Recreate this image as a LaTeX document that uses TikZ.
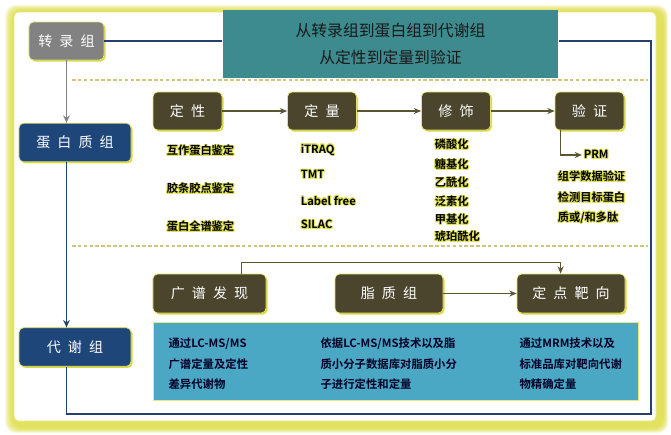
\documentclass[tikz,border=0pt]{standalone}
\usepackage{fontspec}
\setmainfont{Noto Sans CJK SC}[BoldFont={Noto Sans CJK SC Bold}]
\usepackage{contour}
\contourlength{0.7pt}
\usetikzlibrary{arrows.meta,positioning,calc,shadows}
\definecolor{BoxBrown}{HTML}{4B452E}
\definecolor{GlowYellow}{HTML}{D8D82C}
\definecolor{BannerTeal}{HTML}{3D8A8F}
\definecolor{InfoBlue}{HTML}{4BA8C4}
\definecolor{ProtNavy}{HTML}{1F4678}
\definecolor{LoopNavy}{HTML}{23406E}
\definecolor{TransGray}{HTML}{828282}
\definecolor{ArrOlive}{HTML}{5B5632}
\definecolor{SepYellow}{HTML}{CFC67A}
\newcommand{\ks}{\hspace{0.5em}}
\newcommand{\glow}[1]{\contour{GlowYellow!80}{#1}}

\begin{document}
\begin{tikzpicture}[x=0.03cm,y=-0.03cm,line width=1pt,
  titlebox/.style={rounded corners=4pt,inner sep=0pt,text=white,
    font=\fontsize{12}{14}\selectfont,draw=GlowYellow!70,line width=0.6pt,
    drop shadow={fill=GlowYellow,shadow xshift=1.3pt,shadow yshift=-1.3pt,opacity=0.9}},
  stagebox/.style={titlebox,fill=BoxBrown,minimum width=2.07cm,minimum height=1.14cm},
  widebox/.style={titlebox,fill=BoxBrown,minimum width=3.3cm,minimum height=1.17cm},
  sidebox/.style={titlebox,fill=ProtNavy,minimum width=3.36cm,minimum height=1.16cm},
  listtxt/.style={anchor=west,inner sep=1pt,font=\fontsize{9.6}{11}\selectfont\bfseries},
  infotxt/.style={anchor=west,align=left,inner sep=0pt,text=black!85!blue,
    font=\fontsize{9.7}{17.4}\selectfont\bfseries},
  arr/.style={ArrOlive,line width=0.9pt,-{Stealth[length=2.2mm,width=1.8mm]}},
  vline/.style={BoxBrown,line width=0.8pt},
  looplink/.style={LoopNavy,line width=1.2pt},
  sep/.style={SepYellow,line width=1.3pt,densely dashed}]
  \useasboundingbox (0,0) rectangle (671,434);
  % --- cadre avec halo jaune ---
  \foreach \d in {0,...,7}
    \fill[GlowYellow,opacity=0.16,rounded corners=9pt] (5+\d,5+0.8*\d) rectangle (668-0.6*\d,433-0.7*\d);
  \fill[white,rounded corners=4pt,draw=GlowYellow!60,line width=0.6pt] (14,12) rectangle (656,421);
  % --- omiques a gauche ---
  \node[titlebox,fill=TransGray,minimum width=2.25cm,minimum height=1.14cm] (zl) at (66.5,41) {转\ks 录\ks 组};
  \node[sidebox] (dbz) at (75,142.5) {蛋\ks 白\ks 质\ks 组};
  \node[sidebox] (dxz) at (75,347) {代\ks 谢\ks 组};
  \node[fill=BannerTeal,minimum width=10.05cm,minimum height=2.04cm,inner sep=0pt,
    align=center,text=black!90,font=\fontsize{13.5}{23}\selectfont] (banner) at (390.5,44)
    {从转录组到蛋白组到代谢组\\从定性到定量到验证};
  \coordinate (loopR) at (651,414);
  \coordinate (sepT) at (72,80);
  \coordinate (sepB) at (72,246);
  \draw[looplink] (zl.east) -- (zl.east -| banner.west);
  \draw[looplink] (banner.east |- zl.east) -- (loopR |- zl.east) -- (loopR) -| (zl.south |- dxz.south);
  \draw[TransGray,line width=1.6pt,-{Stealth[length=2.2mm,width=2mm]}] (zl.south) -- (zl.south |- dbz.north);
  \draw[LoopNavy,line width=1.2pt,-{Stealth[length=2.2mm,width=2mm]}] (zl.south |- dbz.south) -- (zl.south |- dxz.north);
  \draw[sep] (sepT) -- (648,80);
  \draw[sep] (sepB) -- (648,246);
  % --- proteome : etapes ---
  \node[stagebox] (dx) at (187.5,111) {定\ks 性};
  \node[stagebox] (dl) at (322,111) {定\ks 量};
  \node[stagebox] (xs) at (456,111) {修\ks 饰};
  \node[stagebox] (yz) at (589.5,111) {验\ks 证};
  \draw[arr] (dx) -- (dl);
  \draw[arr] (dl) -- (xs);
  \draw[arr] (xs) -- (yz);
  \draw[vline] ($(dx.south west)+(5,0)$) -- ($(dx.south west)+(5,0)$ |- sepB);
  \draw[vline] ($(dl.south west)+(4,0)$) -- ($(dl.south west)+(4,0)$ |- sepB);
  \draw[vline] ($(xs.south west)+(5,0)$) -- ($(xs.south west)+(5,0)$ |- sepB);
  % listes
  \node[listtxt] (dx1) at (165,151) {\glow{互作蛋白鉴定}};
  \node[listtxt] (dx2) at (165,189) {\glow{胶条胶点鉴定}};
  \node[listtxt] (dx3) at (165,227) {\glow{蛋白全谱鉴定}};
  \node[listtxt] (dl1) at (299,150) {\glow{iTRAQ}};
  \node[listtxt] (dl2) at (299,175) {\glow{TMT}};
  \node[listtxt] (dl3) at (299,201) {\glow{Label free}};
  \node[listtxt] (dl4) at (299,225) {\glow{SILAC}};
  \node[listtxt] (xs1) at (433,145) {\glow{磷酸化}};
  \node[listtxt] (xs2) at (433,165) {\glow{糖基化}};
  \node[listtxt] (xs3) at (433,183) {\glow{乙酰化}};
  \node[listtxt] (xs4) at (433,202) {\glow{泛素化}};
  \node[listtxt] (xs5) at (433,220) {\glow{甲基化}};
  \node[listtxt] (xs6) at (433,237) {\glow{琥珀酰化}};
  \node[listtxt] (prm) at (582,155) {\glow{PRM}};
  \node[listtxt] (yz1) at (556,177) {\glow{组学数据验证}};
  \node[listtxt] (yz2) at (556,198) {\glow{检测目标蛋白}};
  \node[listtxt] (yz3) at (556,218) {\glow{质或/和多肽}};
  \draw[arr] ($(yz.south west)+(6,0)$) |- (prm.west);
  % --- metabolome ---
  \node[widebox,minimum width=3.39cm] (gp) at (209.5,293.5) {广\ks 谱\ks 发\ks 现};
  \node[widebox,minimum width=3.24cm] (zz) at (389,293.5) {脂\ks 质\ks 组};
  \node[widebox,minimum width=3.24cm] (dd) at (571,293.5) {定\ks 点\ks 靶\ks 向};
  \draw[arr] (zz) -- (dd);
  \draw[arr] ($(gp.north east)+(-25,0)$) -- ++(0,-11) -| ($(dd.north west)+(44,0)$);
  \node[fill=InfoBlue,draw=GlowYellow!60,line width=0.6pt,minimum width=14.55cm,minimum height=2.34cm,inner sep=0pt] (info) at (395.5,361) {};
  \node[infotxt] (info1) at (168,364) {通过LC-MS/MS\\广谱定量及定性\\差异代谢物};
  \node[infotxt] (info2) at (320,364) {依据LC-MS/MS技术以及脂\\质小分子数据库对脂质小分\\子进行定性和定量};
  \node[infotxt] (info3) at (519,364) {通过MRM技术以及\\标准品库对靶向代谢\\物精确定量};
\end{tikzpicture}
\end{document}
